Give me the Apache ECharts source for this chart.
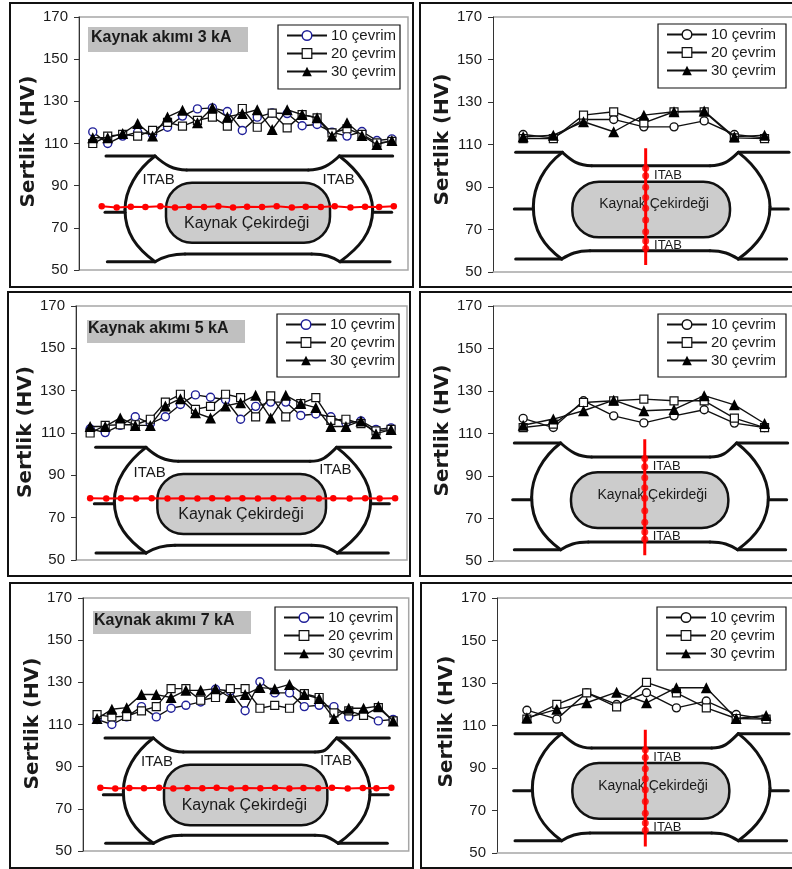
<!DOCTYPE html>
<html>
<head>
<meta charset="utf-8">
<title>Sertlik</title>
<script src="https://cdn.jsdelivr.net/npm/echarts@6/dist/echarts.min.js"></script>
<style>
  html, body { margin: 0; padding: 0; background: #fff; }
  #main { width: 792px; height: 869px; }
</style>
</head>
<body>
<div id="main"></div>
<script>
  var seriesNames = ['10 çevrim', '20 çevrim', '30 çevrim'];
  var yMin = 50, yMax = 170, yStep = 20;
  var hardnessName = 'Sertlik (HV)';

  // measuring points along the weld (left column) and through it (right column)
  var posAcross = [1,2,3,4,5,6,7,8,9,10,11,12,13,14,15,16,17,18,19,20,21];
  var posThrough = [1,2,3,4,5,6,7,8,9];

  var a3_10 = [115.5,110,113.5,115.4,114.3,117.7,123,126.4,126.9,125.2,116.2,122.5,124.5,124.2,118.4,119,115.4,113.5,115.7,111.4,112.2];
  var a3_20 = [110,113.5,114.3,113.5,116.2,120,118.2,121,122.5,118.2,126.6,117.7,124.4,117.4,123.7,122.2,115,117,114.3,110.3,111];
  var a3_30 = [112.7,112.7,114.7,119.5,113.5,122.6,125.8,119.8,127,122.6,124.2,126,116.6,126,123.7,122.2,113.5,119.8,113.8,109.5,111.4];

  var a5_10 = [112,110.2,113.6,117.7,114.4,117.7,123.5,128,126.9,125.7,116.5,122.6,124.6,124.6,118.3,119,117.7,114.7,115.7,111.7,112.4];
  var a5_20 = [110,113.6,113.9,113.9,116.5,124.6,128.3,121.2,122.6,128.3,126.7,117.6,127.5,117.6,123.9,126.7,116,116.5,114.4,111,111.7];
  var a5_30 = [113.1,113.1,117.1,113.6,113.6,122.8,126.2,119.6,117.1,122.8,124.3,127.8,117.1,127.8,123.9,122,113.1,113.1,115.7,109.7,111.6];

  var a7_10 = [112.4,110,113.6,118.5,113.6,117.7,119.1,120.7,126.7,125.9,116.5,130.3,125,125,118.5,119.1,118.5,113.6,115.2,111.7,112.4];
  var a7_20 = [114.7,113.6,113.9,116.5,118.5,127,127,121.5,122.8,127,127,117.7,119.1,117.7,124.6,122.8,115.5,116.5,114.3,118,111.7];
  var a7_30 = [112.8,117.2,118,124.2,124.2,122.8,126.2,126.2,127,122.8,124.2,127.5,127,129,124.2,122.3,112.8,117.7,117.7,118.7,111.7];

  var t3_10 = [114.7,113.1,121.8,121.8,118.3,118.3,121.1,114.7,113.1];
  var t3_20 = [112.8,112.8,123.8,125.4,120.2,125.4,125.4,113.1,112.8];
  var t3_30 = [113.6,114.4,120.7,116,123.8,125.4,125.8,113.6,114.4];

  var t5_10 = [117.1,112.8,125.4,118.3,115,118.3,121.2,114.9,112.8];
  var t5_20 = [112.8,114.4,124.6,125.4,126.2,125.4,125.4,117.2,112.8];
  var t5_30 = [113.9,116.8,120.7,125.7,120.7,121.3,127.8,123.5,114.7];

  var t7_10 = [117.2,113,125.4,119.9,125.4,118.3,121.5,115.2,113];
  var t7_20 = [113,119.9,125.4,118.8,130.3,125.4,118.3,113.3,113];
  var t7_30 = [113.6,117.6,120.7,125.7,120.7,127.8,127.8,113.3,114.7];

  // red indent rows drawn over the sketches
  var redX_a3 = [1.6,2.6,3.54,4.52,5.52,6.5,7.44,8.44,9.4,10.38,11.32,12.32,13.3,14.31,15.24,16.25,17.18,18.23,19.21,20.15,21.13];
  var redY_a3 = [80.2,79.7,80,79.9,80.2,79.7,80,79.9,80.2,79.7,80,79.9,80.2,79.7,80,79.9,80.2,79.7,80,79.9,80.2];
  var redX_a5 = [1,2.07,3.05,4.06,5.09,6.14,7.1,8.13,9.11,10.14,11.12,12.15,13.18,14.18,15.17,16.2,17.16,18.25,19.28,20.24,21.27];
  var redY_a5 = [79.2,79.1,79.2,79.1,79.2,79.1,79.2,79.1,79.2,79.1,79.2,79.1,79.2,79.1,79.2,79.1,79.2,79.1,79.2,79.1,79.2];
  var redX_a7 = [1.22,2.23,3.18,4.17,5.19,6.15,7.1,8.11,9.08,10.05,11.02,12.03,13.02,13.99,14.94,15.93,16.87,17.93,18.95,19.87,20.88];
  var redY_a7 = [80,79.7,79.9,79.8,80,79.7,79.9,79.8,80,79.7,79.9,79.8,80,79.7,79.9,79.8,80,79.7,79.9,79.8,80];

  var redY_t3 = [98.8,95.3,89.9,85.1,80,74.5,69,64.6,61.1];
  var redY_t5 = [98.2,94.4,89.2,84.5,79.5,73.7,68.2,63.6,60.2];
  var redY_t7 = [98.6,95,89.7,85,79.8,74.2,68.7,64.1,60.7];
  var redEnds_t3 = [108.2,53.3];
  var redEnds_t5 = [107.3,52.7];
  var redEnds_t7 = [108,53.1];

  var font = '"Liberation Sans", Arial, sans-serif';
  var ink = '#1a1a1a';

  // layout of every panel, in px; weld sketch numbers are in 3x reference units
  var panels = [
    { side: 'a', frame: [10,3,403,284], plot: [79,17,329,253], xr: [0.08,22.08], nameGap: 38, nameUp: 2,
      hv: [a3_10,a3_20,a3_30], redX: redX_a3, redY: redY_a3,
      legend: [278,25,122,64], tag: { box: [88,27,160,25], text: 'Kaynak akımı 3 kA', tx: 91, ty: 38 },
      weld: { ox: 0, oy: 0, t: [318,465,560,925,1018,1178,468,510], b: [322,465,555,935,1020,1170,785,762],
              lx: 375, rx: 1118, sy: 637, sl: 315, sr: 1175, n: [498,548,492,180,78], c: [740,672], cf: 16, itf: 15,
              itab: [[476,540],[1016,540]] } },
    { side: 't', frame: [420,3,400,284], plot: [493,17,299,255], xr: [0,9.91], nameGap: 40, nameUp: 5,
      hv: [t3_10,t3_20,t3_30], redX: 5.06, redY: redY_t3, ends: redEnds_t3,
      legend: [658,24,128,64],
      weld: { ox: 415, oy: 0, t: [302,442,530,885,970,1122,457,497], b: [302,440,525,885,970,1115,777,752],
              lx: 355, rx: 1065, sy: 627, sl: 298, sr: 1120, n: [472,545,473,167,80], c: [717,612], cf: 14, itf: 13,
              itab: [[759,527],[759,735]] } },
    { side: 'a', frame: [8,292,402,284], plot: [76,306,331,254], xr: [0.06,22.06], nameGap: 37, nameUp: 1,
      hv: [a5_10,a5_20,a5_30], redX: redX_a5, redY: redY_a5,
      legend: [277,314,122,63], tag: { box: [87,320,158,23], text: 'Kaynak akımı 5 kA', tx: 88, ty: 329 },
      weld: { ox: 0, oy: 288, t: [287,438,535,930,1010,1172,478,520], b: [288,438,525,935,1012,1165,795,772],
              lx: 343, rx: 1112, sy: 647, sl: 283, sr: 1168, n: [472,558,506,180,78], c: [723,680], cf: 16, itf: 15,
              itab: [[449,555],[1006,547]] } },
    { side: 't', frame: [420,292,400,284], plot: [493,306,299,255], xr: [0,9.91], nameGap: 40, nameUp: 3,
      hv: [t5_10,t5_20,t5_30], redX: 5.03, redY: redY_t5, ends: redEnds_t5,
      legend: [658,314,128,63],
      weld: { ox: 415, oy: 288, t: [298,437,530,885,965,1118,465,507], b: [298,437,520,885,968,1112,785,762],
              lx: 350, rx: 1060, sy: 635, sl: 293, sr: 1115, n: [468,553,472,167,80], c: [712,622], cf: 14, itf: 13,
              itab: [[755,535],[755,745]] } },
    { side: 'a', frame: [10,583,403,285], plot: [83,598,325.7,253], xr: [0.05,22.05], nameGap: 40, nameUp: 1,
      hv: [a7_10,a7_20,a7_30], redX: redX_a7, redY: redY_a7,
      legend: [275,607,122,63], tag: { box: [93,611,158,23], text: 'Kaynak akımı 7 kA', tx: 94, ty: 621 },
      weld: { ox: 0, oy: 578, t: [315,460,550,945,1010,1168,480,522], b: [317,460,545,945,1015,1162,796,772],
              lx: 370, rx: 1110, sy: 650, sl: 310, sr: 1165, n: [492,560,490,182,78], c: [733,683], cf: 16, itf: 15,
              itab: [[471,552],[1008,550]] } },
    { side: 't', frame: [421,583,400,285], plot: [497,598,295,255], xr: [0,9.866], nameGap: 38, nameUp: 4,
      hv: [t7_10,t7_20,t7_30], redX: 4.96, redY: redY_t7, ends: redEnds_t7,
      legend: [657,607,129,63],
      weld: { ox: 415, oy: 578, t: [300,440,530,890,970,1122,467,510], b: [300,440,525,890,970,1115,788,765],
              lx: 352, rx: 1065, sy: 638, sl: 296, sr: 1120, n: [472,555,471,167,80], c: [714,625], cf: 14, itf: 13,
              itab: [[757,537],[757,747]] } }
  ];

  var graphics = [], grids = [], xAxes = [], yAxes = [], series = [], legends = [];
  var plotLine = '#a6a6a6';

  function pen(w) { return { stroke: '#111', lineWidth: w, fill: null, lineCap: 'round' }; }

  function drawWeld(w) {
    var X = function (v) { return w.ox + v / 3; };
    var Y = function (v) { return w.oy + v / 3; };
    var line = function (x1, y1, x2, y2) {
      graphics.push({ type: 'line', z: 1, silent: true, style: pen(3),
        shape: { x1: X(x1), y1: Y(y1), x2: X(x2), y2: Y(y2) } });
    };
    var curve = function (x1, y1, c1x, c1y, c2x, c2y, x2, y2) {
      graphics.push({ type: 'bezierCurve', z: 1, silent: true, style: pen(3),
        shape: { x1: X(x1), y1: Y(y1), cpx1: X(c1x), cpy1: Y(c1y), cpx2: X(c2x), cpy2: Y(c2y), x2: X(x2), y2: Y(y2) } });
    };
    var t = w.t, b = w.b;
    // top plate
    line(t[0], t[6], t[1], t[6]);
    curve(t[1], t[6], t[1] + 30, t[6] + 27, t[2] - 40, t[7], t[2], t[7]);
    line(t[2], t[7], t[3], t[7]);
    curve(t[3], t[7], t[3] + 40, t[7], t[4] - 28, t[6] + 27, t[4], t[6]);
    line(t[4], t[6], t[5], t[6]);
    // bottom plate
    line(b[0], b[6], b[1], b[6]);
    curve(b[1], b[6], b[1] + 25, b[6] - 15, b[2] - 40, b[7], b[2], b[7]);
    line(b[2], b[7], b[3], b[7]);
    curve(b[3], b[7], b[3] + 40, b[7], b[4] - 25, b[6] - 15, b[4], b[6]);
    line(b[4], b[6], b[5], b[6]);
    // side bulges and stubs
    var mid = (t[6] + b[6]) / 2 + 3;
    curve(t[1], t[6], t[1] - 55, t[6] + 42, w.lx, mid - 60, w.lx, mid);
    curve(w.lx, mid, w.lx, mid + 70, b[1] - 55, b[6] - 40, b[1], b[6]);
    curve(t[4], t[6], t[4] + 55, t[6] + 42, w.rx, mid - 60, w.rx, mid);
    curve(w.rx, mid, w.rx, mid + 70, b[4] + 55, b[6] - 40, b[4], b[6]);
    line(w.sl, w.sy, w.lx, w.sy);
    line(w.rx, w.sy, w.sr, w.sy);
    // nugget
    var n = w.n;
    graphics.push({ type: 'rect', z: 1, silent: true,
      shape: { x: X(n[0]), y: Y(n[1]), width: n[2] / 3, height: n[3] / 3, r: n[4] / 3 },
      style: { fill: '#cccccc', stroke: '#111', lineWidth: 2.5 } });
    graphics.push({ type: 'text', z: 2, silent: true, x: X(w.c[0]), y: Y(w.c[1]),
      style: { text: 'Kaynak Çekirdeği', font: w.cf + 'px ' + font, fill: ink, textAlign: 'center', textVerticalAlign: 'middle' } });
    w.itab.forEach(function (p) {
      graphics.push({ type: 'text', z: 2, silent: true, x: X(p[0]), y: Y(p[1]),
        style: { text: 'ITAB', font: w.itf + 'px ' + font, fill: ink, textAlign: 'center', textVerticalAlign: 'middle' } });
    });
  }

  panels.forEach(function (p, i) {
    var across = p.side === 'a';
    var positions = across ? posAcross : posThrough;
    var circleColor = across ? '#1f1f99' : '#111';

    graphics.push({ type: 'rect', z: 0, silent: true,
      shape: { x: p.frame[0], y: p.frame[1], width: p.frame[2], height: p.frame[3] },
      style: { fill: null, stroke: '#111', lineWidth: 2 } });

    // right column runs off the page, so it gets no right-hand border
    grids.push({ left: p.plot[0], top: p.plot[1], width: p.plot[2], height: p.plot[3],
      show: across, borderColor: plotLine, borderWidth: 1.5, backgroundColor: 'transparent' });
    xAxes.push({ gridIndex: i, type: 'value', min: p.xr[0], max: p.xr[1], show: !across,
      axisLine: { show: true, onZero: false, lineStyle: { color: plotLine, width: 1.5 } },
      axisTick: { show: false }, axisLabel: { show: false }, splitLine: { show: false } });
    if (!across) {
      graphics.push({ type: 'line', z: 0, silent: true,
        shape: { x1: p.plot[0], y1: p.plot[1], x2: 792, y2: p.plot[1] },
        style: { stroke: plotLine, lineWidth: 1.5 } });
    }
    yAxes.push({ gridIndex: i, type: 'value', min: yMin, max: yMax, interval: yStep,
      name: hardnessName, nameLocation: 'middle', nameRotate: 90, nameGap: p.nameGap,
      nameTextStyle: { fontFamily: 'DejaVu Sans', fontWeight: 'bold', fontSize: 20, color: ink,
        padding: [0, 0, 0, p.nameUp * 2] },
      axisLine: { show: true, lineStyle: { color: '#333', width: 1 } },
      axisTick: { show: true, length: 5, lineStyle: { color: '#333', width: 1 } },
      axisLabel: { margin: 11, color: ink, fontFamily: font, fontSize: 15 },
      splitLine: { show: false } });

    drawWeld(p.weld);

    // red indents
    if (across) {
      series.push({ type: 'line', xAxisIndex: i, yAxisIndex: i, z: 3, silent: true, animation: false,
        data: p.redX.map(function (x, k) { return [x, p.redY[k]]; }),
        symbol: 'circle', symbolSize: 6.5, showAllSymbol: true,
        lineStyle: { color: '#ff0000', width: 2 }, itemStyle: { color: '#ff0000' } });
    } else {
      series.push({ type: 'line', xAxisIndex: i, yAxisIndex: i, z: 3, silent: true, animation: false,
        data: [[p.redX, p.ends[0]], [p.redX, p.ends[1]]], symbol: 'none',
        lineStyle: { color: '#ff0000', width: 3 } });
      series.push({ type: 'scatter', xAxisIndex: i, yAxisIndex: i, z: 3, silent: true, animation: false,
        data: p.redY.map(function (y) { return [p.redX, y]; }),
        symbol: 'circle', symbolSize: 7, itemStyle: { color: '#ff0000' } });
    }

    var styles = [
      { symbol: 'circle', size: 8, item: { color: '#fff', borderColor: circleColor, borderWidth: 1.4 } },
      { symbol: 'rect', size: 8, item: { color: '#fff', borderColor: '#111', borderWidth: 1.2 } },
      { symbol: 'triangle', size: 11, item: { color: '#000', borderColor: '#000', borderWidth: 0 } }
    ];
    styles.forEach(function (st, k) {
      series.push({ name: seriesNames[k], type: 'line', xAxisIndex: i, yAxisIndex: i, z: 4 + k, silent: true,
        animation: false, showAllSymbol: true,
        data: positions.map(function (x, j) { return [x, p.hv[k][j]]; }),
        symbol: st.symbol, symbolSize: st.size,
        lineStyle: { color: '#111', width: 1.4 }, itemStyle: st.item });
    });

    // legend frame and gray current tag
    graphics.push({ type: 'rect', z: 8, silent: true,
      shape: { x: p.legend[0], y: p.legend[1], width: p.legend[2], height: p.legend[3] },
      style: { fill: '#fff', stroke: '#111', lineWidth: 1.2 } });
    if (p.tag) {
      graphics.push({ type: 'rect', z: 1, silent: true,
        shape: { x: p.tag.box[0], y: p.tag.box[1], width: p.tag.box[2], height: p.tag.box[3] },
        style: { fill: '#c0c0c0' } });
      graphics.push({ type: 'text', z: 2, silent: true, x: p.tag.tx, y: p.tag.ty,
        style: { text: p.tag.text, font: 'bold 16px ' + font, fill: ink, textVerticalAlign: 'middle' } });
    }

    legends.push({ orient: 'vertical', z: 9, left: p.legend[0] + 8, top: p.legend[1] + 3, padding: 0,
      itemWidth: 40, itemHeight: 12, itemGap: 3, selectedMode: false,
      textStyle: { fontFamily: font, fontSize: 15, color: ink, padding: [0, 0, 5, -1] },
      data: styles.map(function (st, k) {
        return { name: seriesNames[k], itemStyle: st.item };
      }) });
  });

  var chart = echarts.init(document.getElementById('main'), null, { renderer: 'canvas' });
  chart.setOption({
    backgroundColor: '#fff',
    animation: false,
    tooltip: { show: false },
    grid: grids,
    xAxis: xAxes,
    yAxis: yAxes,
    legend: legends,
    series: series,
    graphic: { elements: graphics }
  });
</script>
</body>
</html>
